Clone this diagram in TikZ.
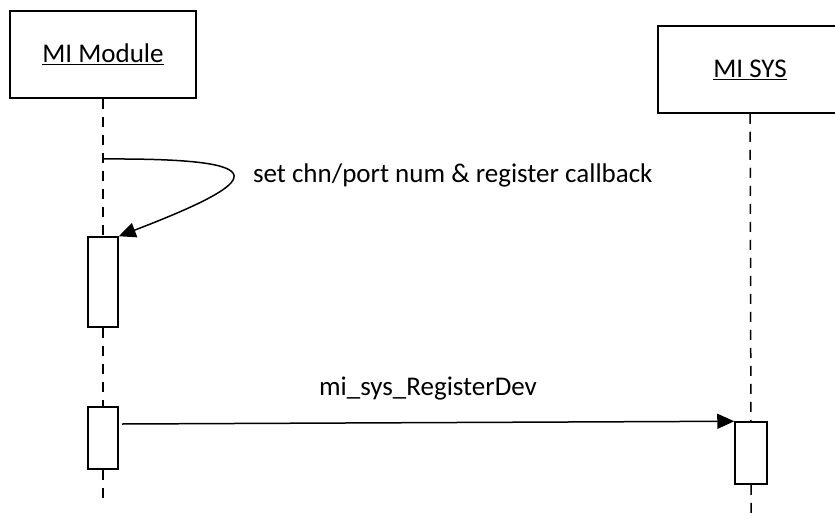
\documentclass[tikz,border=0pt]{standalone}
\usepackage{fontspec}
\setmainfont{Carlito}
\usetikzlibrary{arrows.meta}

\begin{document}
\begin{tikzpicture}[x=1pt,y=-1pt,line width=1.5pt,
    font=\fontsize{27}{32}\selectfont,
    obj/.style={draw,rectangle,minimum height=87pt,inner sep=0pt},
    act/.style={draw,fill=white,rectangle,minimum width=30pt,inner sep=0pt},
    life/.style={dash pattern=on 10pt off 8pt},
    msg/.style={-{Triangle[length=17pt,width=15pt]}}]
  \clip (0,0) rectangle (835,519);

  % objects
  \node[obj,minimum width=186pt] (mod) at (103,54.5) {\underline{MI Module}};
  \node[obj,minimum width=184pt] (sys) at (750,69.5) {\underline{MI SYS}};

  % activations
  \node[act,minimum height=90pt] (a1) at (103,282) {};
  \node[act,minimum height=62pt] (a2) at (103,438) {};
  \node[act,minimum height=62pt,minimum width=32pt] (a3) at (751,453) {};
  \coordinate (e1) at (103,503);
  \coordinate (e2) at (751,519);
  \coordinate (s0) at (103,159);
  \coordinate (m0) at (122,424);

  % lifelines
  \draw[life] (mod) -- (a1) (a1) -- (a2) (a2) -- (e1);
  \draw[life] (sys) -- (a3) (a3) -- (e2);

  % messages
  \draw[msg] (s0) .. controls (280,158) and (265,180) .. (a1.north east);
  \node[anchor=west] (lbl1) at (249,175) {set chn/port num \& register callback};
  \draw[msg] (m0) -- (a3.north west);
  \node (lbl2) at (428,389) {mi\_sys\_RegisterDev};
\end{tikzpicture}
\end{document}
